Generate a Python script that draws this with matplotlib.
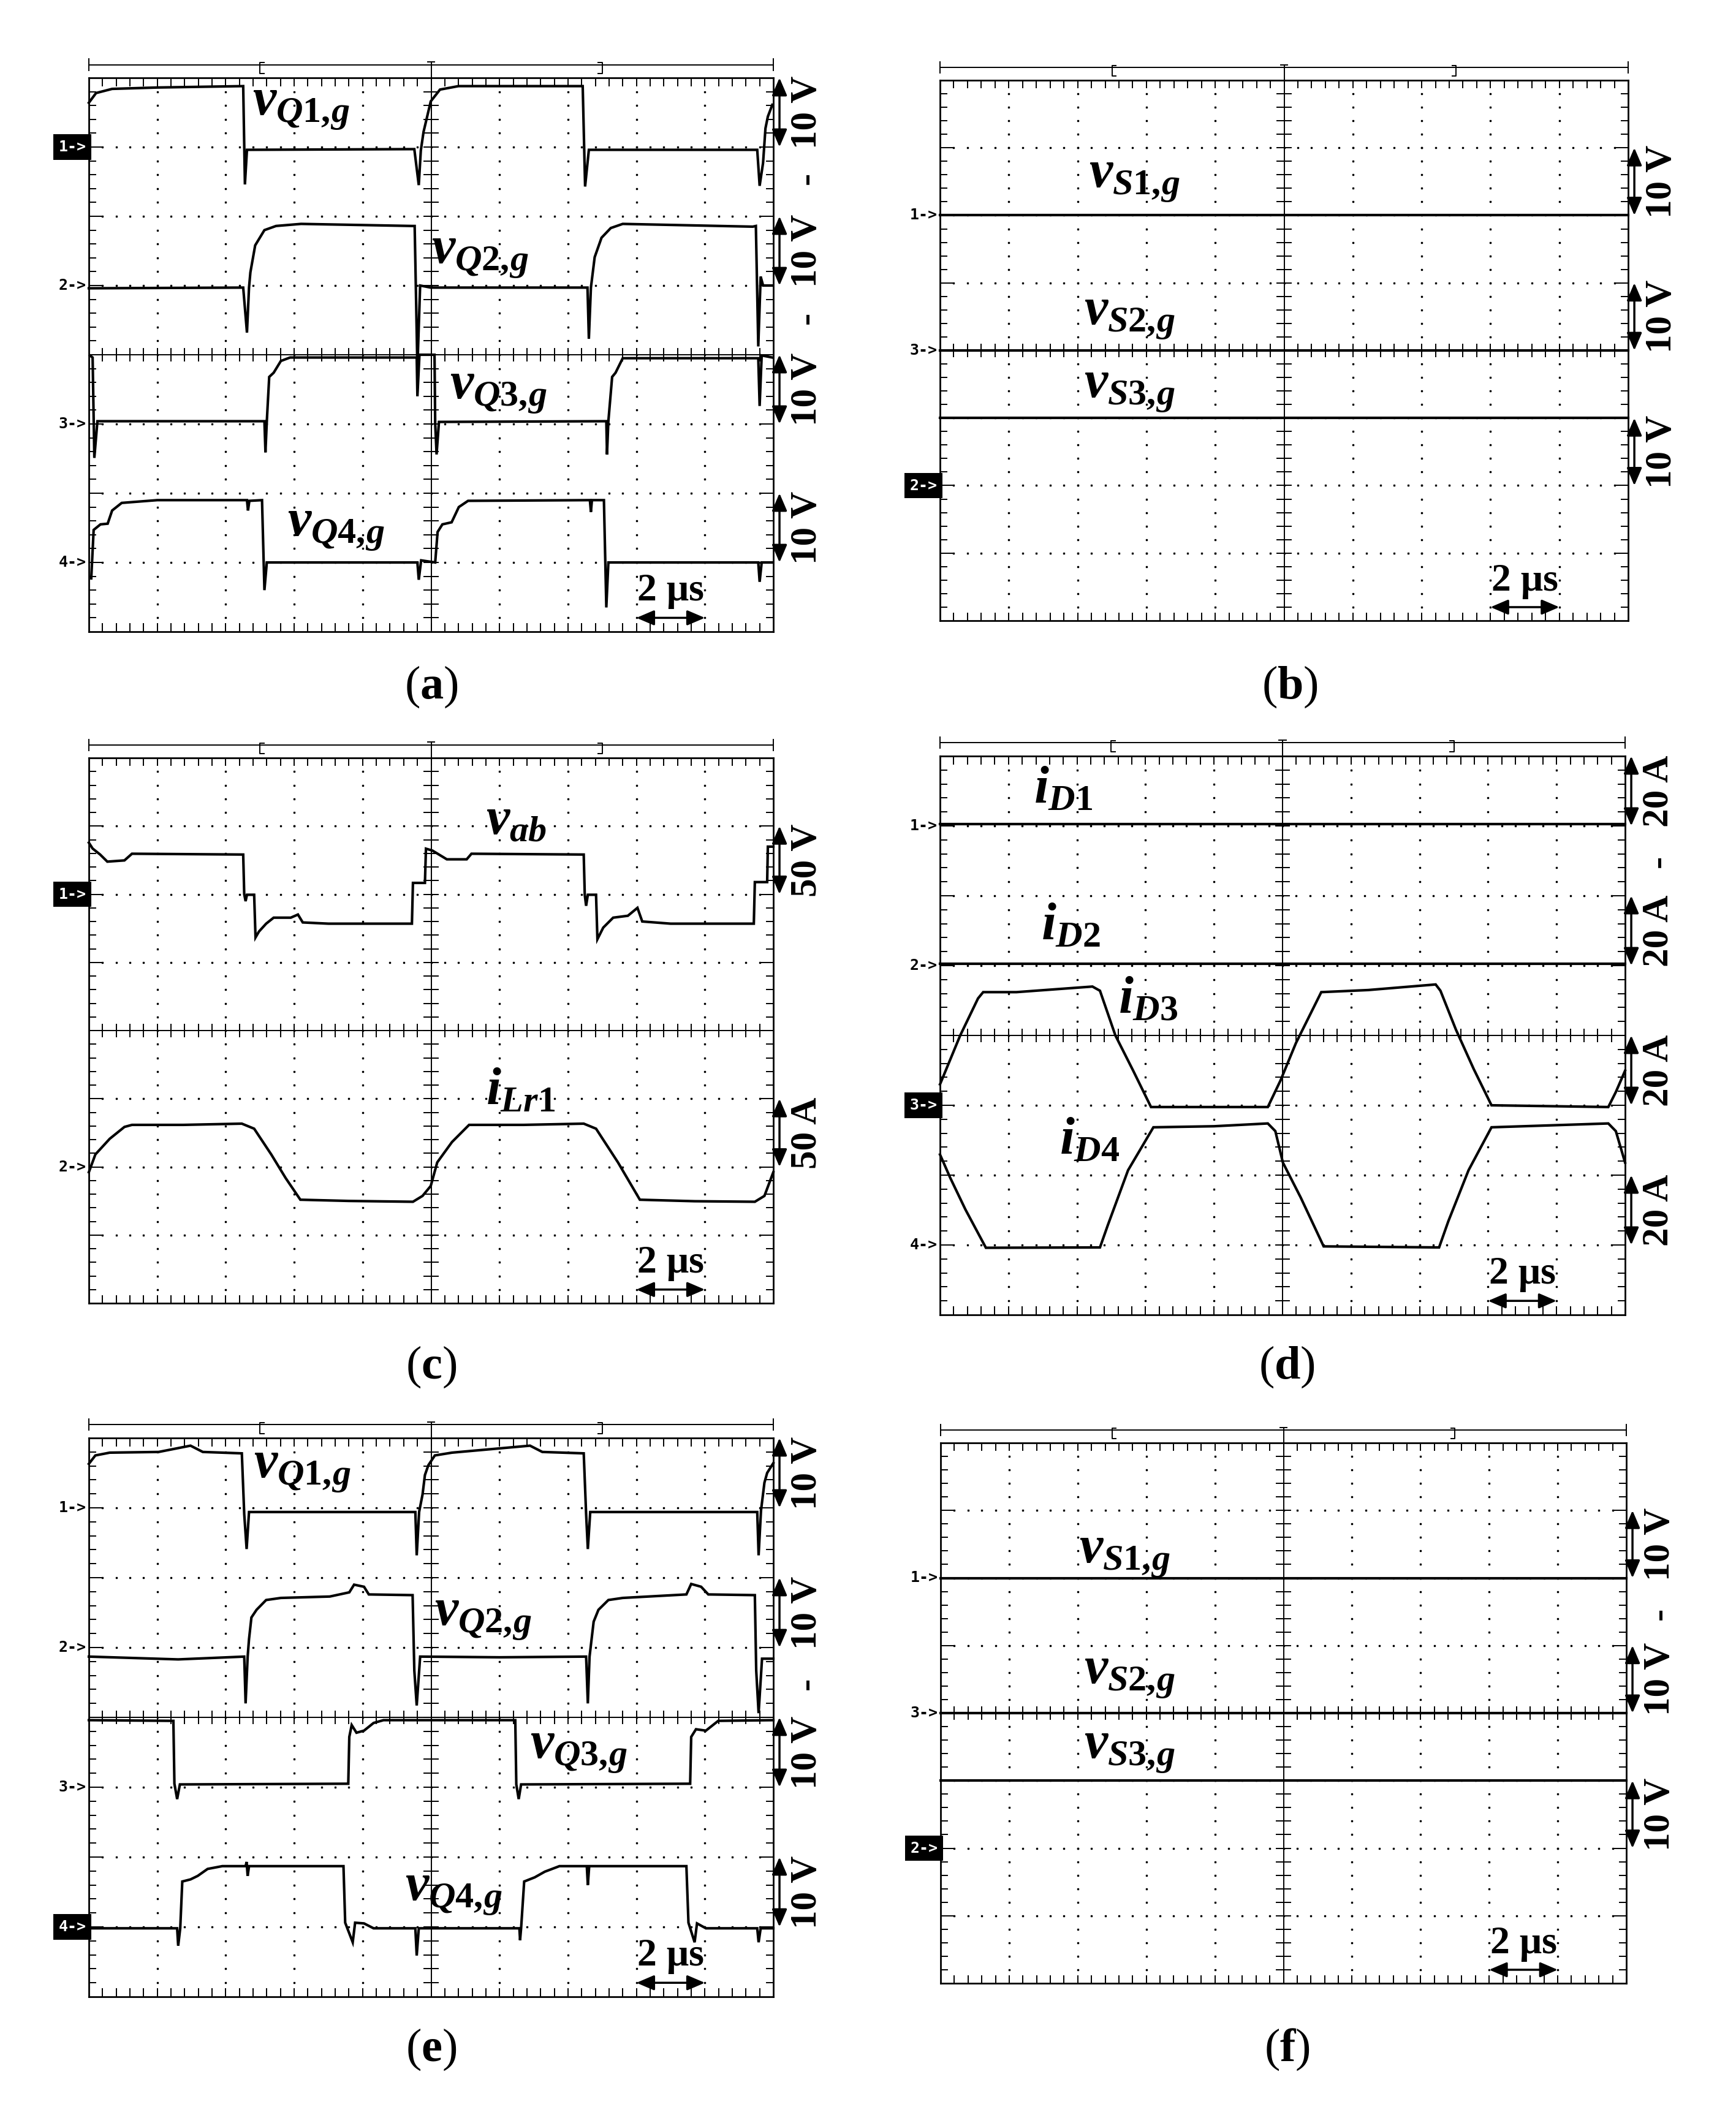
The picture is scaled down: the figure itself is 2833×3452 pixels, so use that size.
import matplotlib.pyplot as plt
import numpy as np

plt.rcParams['mathtext.fontset'] = 'custom'
plt.rcParams['mathtext.rm'] = 'Liberation Serif'
plt.rcParams['mathtext.it'] = 'Liberation Serif:italic:bold'
plt.rcParams['mathtext.bf'] = 'Liberation Serif:bold'
SERIF = 'Liberation Serif'
MONO = 'DejaVu Sans Mono'

# time base: 2 us/div, 10 div -> 0..20 us
# values are relative to the channel ground level

# ---------- (a) gate voltages, 10 V/div ----------
t_a_q1 = [0, 0.21, 0.68, 2.0, 4.51, 4.56, 4.62, 9.51, 9.64, 9.70, 9.78, 9.99, 10.26, 10.8,
          14.43, 14.50, 14.61, 19.53, 19.60, 19.70, 19.77, 19.84, 19.97]
v_a_q1 = [6.4, 7.8, 8.4, 8.6, 8.8, -5.4, -0.4, -0.3, -5.5, -0.5, 2.2, 6.6, 8.3, 8.8,
          8.8, -5.7, -0.4, -0.4, -5.6, -2.3, 2.7, 4.4, 6.1]
t_a_q2 = [0, 4.51, 4.62, 4.68, 4.72, 4.86, 5.13, 5.47, 6.2, 9.44, 9.52, 9.60, 9.68, 9.99,
          14.57, 14.61, 14.67, 14.78, 14.98, 15.25, 15.6, 19.4, 19.49, 19.56, 19.63, 19.70, 19.97]
v_a_q2 = [-0.4, -0.3, -6.8, -0.3, 1.9, 5.8, 8.0, 8.6, 8.9, 8.6, 8.6, -12.0, 0.0, -0.3,
          -0.3, -7.7, -0.3, 4.1, 6.9, 8.3, 8.9, 8.5, 8.6, -8.8, 1.3, 0.0, 0.0]
t_a_q3 = [0.03, 0.11, 0.16, 0.25, 5.13, 5.16, 5.20, 5.27, 5.40, 5.61, 5.88, 9.58, 9.60, 9.66,
          10.10, 10.12, 10.16, 10.23, 15.12, 15.14, 15.18, 15.29, 15.39, 15.60, 19.56, 19.60,
          19.66, 19.97]
v_a_q3 = [9.9, 9.6, -4.9, 0.4, 0.4, -4.1, 0.4, 6.8, 7.4, 9.1, 9.6, 9.6, 4.0, 10.0,
          10.0, 0.1, -4.4, 0.3, 0.4, -4.4, 0.4, 6.8, 7.4, 9.5, 9.5, 2.6, 9.9, 9.6]
t_a_q4 = [0.07, 0.14, 0.34, 0.55, 0.68, 0.96, 2.0, 4.62, 4.65, 4.69, 5.06, 5.13, 5.20, 9.60,
          9.64, 9.71, 10.12, 10.19, 10.33, 10.60, 10.81, 11.08, 14.64, 14.67, 14.70, 15.05,
          15.12, 15.18, 19.56, 19.60, 19.66, 19.97]
v_a_q4 = [-2.3, 4.7, 5.5, 5.6, 7.5, 8.6, 9.0, 9.0, 7.5, 8.9, 9.0, -4.0, 0.0, 0.0,
          -2.5, 0.3, 0.0, 4.4, 5.5, 5.8, 8.0, 8.9, 9.0, 7.3, 9.0, 9.0,
          -6.5, 0.0, 0.0, -2.8, 0.0, 0.0]

# ---------- (b) / (f) gate voltages of S1..S3, 10 V/div ----------
t_flat = [0, 20]
v_b_s1 = [0.0, 0.0]
v_b_s2 = [0.0, 0.0]
v_b_s3 = [0.0, 0.0]

# ---------- (c) v_ab 50 V/div, i_Lr1 50 A/div ----------
t_c_vab = [0, 0.11, 0.33, 0.54, 1.04, 1.26, 4.51, 4.54, 4.58, 4.62, 4.83, 4.87, 4.97, 5.18,
           5.40, 5.90, 6.11, 6.25, 7.0, 9.44, 9.47, 9.82, 9.85, 10.04, 10.46, 11.04, 11.18,
           14.46, 14.49, 14.53, 14.58, 14.82, 14.86, 15.03, 15.32, 15.75, 16.03, 16.17, 17.0,
           19.43, 19.46, 19.82, 19.84, 20]
v_c_vab = [37.8, 33.5, 29.1, 23.9, 24.8, 29.7, 29.1, 0.0, -5.1, -0.4, -0.4, -31.7, -27.4, -21.6,
           -17.2, -17.2, -14.9, -20.7, -21.6, -21.6, 8.3, 8.3, 33.4, 32.0, 25.6, 25.6, 29.7,
           29.1, -0.4, -8.5, -0.4, -0.4, -33.0, -24.5, -17.2, -15.8, -10.0, -20.0, -21.6,
           -21.6, 8.9, 8.9, 34.9, 34.9]
t_c_ilr = [0, 0.19, 0.61, 1.04, 1.26, 2.76, 4.47, 4.83, 5.33, 5.75, 6.18, 7.6, 9.47, 9.75,
           9.99, 10.18, 10.61, 11.11, 12.7, 14.46, 14.82, 15.46, 16.10, 17.7, 19.46, 19.74, 20]
i_c_ilr = [-3.9, 9.1, 20.6, 29.3, 30.8, 30.8, 31.7, 28.0, 9.1, -8.2, -24.1, -25.0, -25.6, -21.3,
           -14.0, 3.3, 18.2, 30.8, 30.8, 31.7, 28.0, 3.3, -24.1, -25.2, -25.6, -21.3, -3.9]

# ---------- (d) diode currents, 20 A/div ----------
i_d_d1 = [0.6, 0.6]
i_d_d2 = [0.6, 0.6]
t_d_d3 = [0, 0.59, 1.11, 1.26, 2.23, 4.45, 4.67, 5.12, 5.64, 6.16, 9.57, 9.94, 10.39, 11.13,
          12.5, 14.47, 14.61, 15.06, 15.58, 16.10, 19.51, 19.73, 20]
i_d_d3 = [6.0, 20.0, 30.6, 32.4, 32.4, 34.0, 32.8, 20.0, 9.9, -0.5, -0.5, 7.1, 17.8, 32.4,
          33.0, 34.6, 32.8, 21.7, 10.4, 0.0, -0.5, 3.8, 9.9]
t_d_d4 = [0, 0.30, 0.74, 1.34, 4.67, 4.90, 5.49, 6.23, 8.0, 9.57, 9.79, 10.01, 10.53, 11.20,
          14.57, 14.84, 15.43, 16.10, 19.51, 19.73, 20]
i_d_d4 = [25.9, 19.2, 10.2, -0.8, -0.7, 5.7, 21.4, 33.7, 34.0, 34.8, 32.6, 23.6, 13.6, -0.4,
          -0.7, 6.8, 21.4, 33.7, 34.8, 32.6, 23.6]

# ---------- (e) gate voltages, 10 V/div ----------
t_e_q1 = [0, 0.19, 0.61, 2.04, 2.97, 3.33, 4.47, 4.54, 4.61, 4.68, 9.54, 9.58, 9.65, 9.75,
          9.82, 9.92, 10.11, 10.61, 12.89, 13.25, 14.46, 14.53, 14.58, 14.65, 19.53, 19.57,
          19.64, 19.74, 19.82, 20]
v_e_q1 = [6.3, 7.5, 7.9, 8.0, 8.9, 8.0, 7.8, -0.9, -5.9, -0.6, -0.6, -6.8, -0.6, 1.9,
          4.7, 6.1, 7.5, 7.9, 8.9, 8.0, 7.8, -0.9, -5.9, -0.6, -0.6, -6.8,
          -0.4, 3.6, 5.0, 6.4]
t_e_q2 = [0, 2.61, 4.54, 4.58, 4.64, 4.68, 4.75, 4.90, 5.18, 5.61, 7.04, 7.61, 7.75, 8.04,
          8.18, 9.46, 9.51, 9.58, 9.68, 12.0, 14.53, 14.58, 14.63, 14.75, 14.89, 15.18, 15.60,
          17.46, 17.60, 17.89, 18.10, 19.46, 19.50, 19.57, 19.67, 20]
v_e_q2 = [-1.3, -1.7, -1.3, -8.0, -1.3, 1.2, 4.3, 5.4, 6.8, 7.1, 7.3, 7.9, 9.0, 8.7,
          7.6, 7.5, -3.3, -8.3, -1.3, -1.4, -1.3, -8.0, -1.3, 3.7, 5.4, 6.8, 7.1,
          7.6, 9.1, 8.7, 7.6, 7.5, -3.3, -9.4, -1.6, -1.6]
t_e_q3 = [0, 2.47, 2.50, 2.58, 2.66, 7.58, 7.61, 7.68, 7.82, 8.04, 8.32, 8.61, 12.46, 12.49,
          12.56, 12.63, 17.57, 17.60, 17.74, 18.03, 18.39, 20]
v_e_q3 = [9.6, 9.5, 0.5, -1.7, 0.4, 0.5, 7.2, 8.9, 7.8, 8.1, 9.2, 9.6, 9.6, 0.4,
          -1.7, 0.4, 0.5, 7.2, 8.3, 8.1, 9.5, 9.6]
t_e_q4 = [0, 2.58, 2.61, 2.67, 2.73, 2.97, 3.18, 3.47, 3.90, 4.58, 4.61, 4.64, 4.68, 7.44,
          7.49, 7.71, 7.78, 8.04, 8.32, 9.54, 9.58, 9.64, 12.58, 12.60, 12.63, 12.72, 13.03,
          13.32, 13.75, 14.55, 14.58, 14.62, 17.46, 17.52, 17.70, 17.77, 18.03, 19.53, 19.57,
          19.63, 20]
v_e_q4 = [-0.2, -0.2, -2.7, -0.2, 6.5, 6.8, 7.3, 8.3, 8.7, 8.7, 9.3, 7.3, 8.7, 8.7,
          0.6, -2.2, 0.6, 0.5, -0.2, -0.2, -4.1, -0.2, -0.2, -1.9, -0.2, 6.5, 7.1,
          7.9, 8.7, 8.7, 6.0, 8.7, 8.7, 0.6, -2.2, 0.5, -0.2, -0.2, -2.2,
          -0.2, -0.2]

W, H = 2833, 3452
fig = plt.figure(figsize=(W / 100, H / 100), dpi=100)


def scope(box, traces, markers, scales, dashes, labels, caption, cap_xy):
    left, top, right, bottom = box
    ax = fig.add_axes([left / W, 1 - bottom / H, (right - left) / W, (bottom - top) / H])
    ax.set_xlim(0, 10)
    ax.set_ylim(0, 8)
    ax.set_xticks([])
    ax.set_yticks([])
    for s in ax.spines.values():
        s.set_linewidth(2.0)

    k = dict(color='black', lw=1.4)
    # dotted graticule
    fine_y = np.arange(0.2, 8, 0.2)
    fine_x = np.arange(0.2, 10, 0.2)
    for gx in [1, 2, 3, 4, 6, 7, 8, 9]:
        ax.plot(np.full(len(fine_y), gx), fine_y, ls='none', marker='s', ms=1.6, color='black')
    for gy in [1, 2, 3, 5, 6, 7]:
        ax.plot(fine_x, np.full(len(fine_x), gy), ls='none', marker='s', ms=1.6, color='black')
    ax.axvline(5, **k)
    ax.axhline(4, **k)
    # edge and centre ticks
    minor_x = np.arange(0.2, 10, 0.2)
    minor_y = np.arange(0.2, 8, 0.2)
    ax.vlines(minor_x, 8 - 0.12, 8, **k)
    ax.vlines(minor_x, 0, 0.12, **k)
    ax.vlines(minor_x, 4 - 0.1, 4 + 0.1, **k)
    ylen = [0.2 if abs(y - round(y)) < 1e-6 else 0.1 for y in minor_y]
    for y, ln in zip(minor_y, ylen):
        ax.plot([0, ln], [y, y], **k)
        ax.plot([10 - ln, 10], [y, y], **k)
        ax.plot([4.9, 5.1], [y, y], **k)

    # top ruler
    yr = 8.19
    rk = dict(color='black', lw=1.4, clip_on=False)
    ax.plot([0, 10], [yr, yr], **rk)
    ax.plot([0, 0], [yr - 0.08, yr + 0.08], **rk)
    ax.plot([10, 10], [yr - 0.08, yr + 0.08], **rk)
    ax.plot([2.56, 2.5, 2.5, 2.56], [yr - 0.13, yr - 0.13, yr + 0.03, yr + 0.03], **rk)
    ax.plot([7.44, 7.5, 7.5, 7.44], [yr - 0.13, yr - 0.13, yr + 0.03, yr + 0.03], **rk)
    ax.plot([5, 5], [8, yr + 0.04], **rk)
    ax.plot([4.95, 5.05], [yr + 0.04, yr + 0.04], **rk)

    # waveforms
    for t, v, zero, per_div in traces:
        x = np.array(t) / 2.0
        y = (8 - zero) + np.array(v) / per_div
        ax.plot(x, y, color='black', lw=3.0, solid_joinstyle='miter', clip_on=False)

    # channel ground markers
    for txt, pos, hl in markers:
        if hl:
            ax.text(-0.04, 8 - pos, txt, ha='right', va='center', fontsize=18, family=MONO,
                    fontweight='bold', color='white', clip_on=False,
                    bbox=dict(boxstyle='square,pad=0.35', facecolor='black', edgecolor='none'))
        else:
            ax.text(-0.04, 8 - pos, txt, ha='right', va='center', fontsize=18, family=MONO,
                    fontweight='bold', color='black', clip_on=False)

    # vertical scale arrows
    for txt, pos in scales:
        ax.annotate('', xy=(10.09, 8 - pos), xytext=(10.09, 8 - pos - 1), annotation_clip=False,
                    arrowprops=dict(arrowstyle='<|-|>,head_length=0.7,head_width=0.3',
                                    mutation_scale=25, lw=2.5, color='black',
                                    shrinkA=0, shrinkB=0))
        ax.text(10.49, 8 - pos - 0.5, txt, rotation=90, ha='center', va='center', fontsize=44,
                family=SERIF, fontweight='bold', clip_on=False)
    for pos in dashes:
        ax.text(10.49, 8 - pos, '-', rotation=90, ha='center', va='center', fontsize=44,
                family=SERIF, fontweight='bold', clip_on=False)

    # time scale
    ax.annotate('', xy=(8.0, 0.2), xytext=(9.0, 0.2), annotation_clip=False,
                arrowprops=dict(arrowstyle='<|-|>,head_length=0.7,head_width=0.3',
                                mutation_scale=25, lw=2.5, color='black', shrinkA=0, shrinkB=0))
    ax.text(8.5, 0.58, '2 μs', ha='center', va='center', fontsize=46, family=SERIF,
            fontweight='bold')

    for txt, x, y in labels:
        ax.text(x, 8 - y, txt, ha='left', va='center', fontsize=62)

    fig.text(cap_xy[0] / W, 1 - cap_xy[1] / H, caption, ha='center', va='center', fontsize=55)


s_markers = [('1->', 2, False), ('3->', 4, False), ('2->', 6, True)]

scope((145, 127, 1262, 1031),
      [(t_a_q1, v_a_q1, 1, 10), (t_a_q2, v_a_q2, 3, 10), (t_a_q3, v_a_q3, 5, 10), (t_a_q4, v_a_q4, 7, 10)],
      [('1->', 1, True), ('2->', 3, False), ('3->', 5, False), ('4->', 7, False)],
      [('10 V', 0), ('10 V', 2), ('10 V', 4), ('10 V', 6)], [1.45, 3.47],
      [(r'$v_{Q\mathbf{1,}\!g}$', 2.39, 0.40), (r'$v_{Q\mathbf{2,}\!g}$', 5.0, 2.54),
       (r'$v_{Q\mathbf{3,}\!g}$', 5.27, 4.5), (r'$v_{Q\mathbf{4,}\!g}$', 2.9, 6.48)],
      r'$(\mathbf{a})$', (704, 1121))

scope((1534, 131, 2657, 1013),
      [(t_flat, v_b_s1, 2, 10), (t_flat, v_b_s2, 4, 10), (t_flat, v_b_s3, 5, 10)],
      s_markers,
      [('10 V', 1), ('10 V', 3), ('10 V', 5)], [],
      [(r'$v_{S\mathbf{1,}\!g}$', 2.16, 1.45), (r'$v_{S\mathbf{2,}\!g}$', 2.09, 3.48),
       (r'$v_{S\mathbf{3,}\!g}$', 2.09, 4.56)],
      r'$(\mathbf{b})$', (2105, 1121))

scope((145, 1237, 1262, 2127),
      [(t_c_vab, v_c_vab, 2, 50), (t_c_ilr, i_c_ilr, 6, 50)],
      [('1->', 2, True), ('2->', 6, False)],
      [('50 V', 1), ('50 A', 5)], [],
      [(r'$v_{ab}$', 5.8, 0.9), (r'$i_{Lr\mathbf{1}}$', 5.8, 4.87)],
      r'$(\mathbf{c})$', (704, 2231))

scope((1534, 1234, 2652, 2146),
      [(t_flat, i_d_d1, 1, 20), (t_flat, i_d_d2, 3, 20), (t_d_d3, i_d_d3, 5, 20), (t_d_d4, i_d_d4, 7, 20)],
      [('1->', 1, False), ('2->', 3, False), ('3->', 5, True), ('4->', 7, False)],
      [('20 A', 0), ('20 A', 2), ('20 A', 4), ('20 A', 6)], [1.51],
      [(r'$i_{D\mathbf{1}}$', 1.37, 0.46), (r'$i_{D\mathbf{2}}$', 1.48, 2.42),
       (r'$i_{D\mathbf{3}}$', 2.6, 3.47), (r'$i_{D\mathbf{4}}$', 1.74, 5.49)],
      r'$(\mathbf{d})$', (2100, 2231))

scope((145, 2347, 1262, 3259),
      [(t_e_q1, v_e_q1, 1, 10), (t_e_q2, v_e_q2, 3, 10), (t_e_q3, v_e_q3, 5, 10), (t_e_q4, v_e_q4, 7, 10)],
      [('1->', 1, False), ('2->', 3, False), ('3->', 5, False), ('4->', 7, True)],
      [('10 V', 0), ('10 V', 2), ('10 V', 4), ('10 V', 6)], [3.52],
      [(r'$v_{Q\mathbf{1,}\!g}$', 2.41, 0.43), (r'$v_{Q\mathbf{2,}\!g}$', 5.05, 2.55),
       (r'$v_{Q\mathbf{3,}\!g}$', 6.45, 4.45), (r'$v_{Q\mathbf{4,}\!g}$', 4.62, 6.49)],
      r'$(\mathbf{e})$', (704, 3345))

scope((1535, 2355, 2654, 3237),
      [(t_flat, v_b_s1, 2, 10), (t_flat, v_b_s2, 4, 10), (t_flat, v_b_s3, 5, 10)],
      s_markers,
      [('10 V', 1), ('10 V', 3), ('10 V', 5)], [2.53],
      [(r'$v_{S\mathbf{1,}\!g}$', 2.02, 1.64), (r'$v_{S\mathbf{2,}\!g}$', 2.09, 3.42),
       (r'$v_{S\mathbf{3,}\!g}$', 2.09, 4.53)],
      r'$(\mathbf{f})$', (2100, 3345))

fig.savefig('out.png', dpi=100, facecolor='white')
